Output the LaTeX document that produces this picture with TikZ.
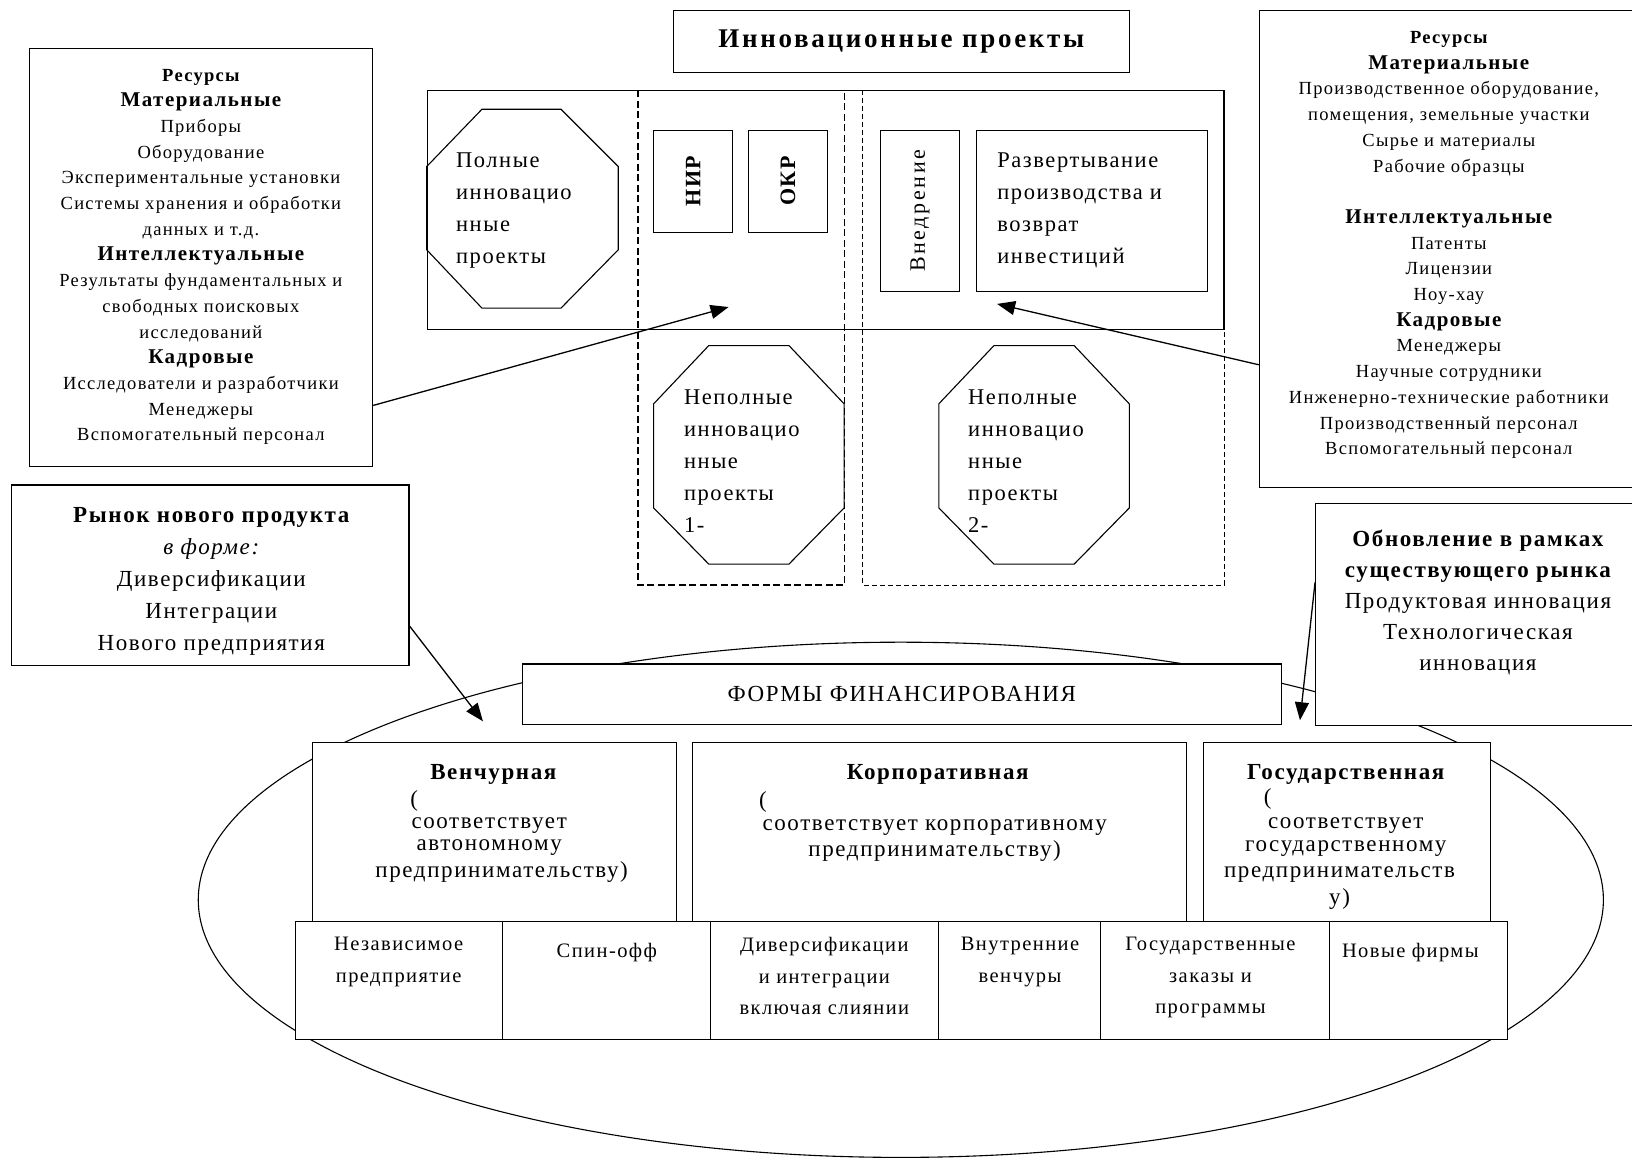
\documentclass[tikz,border=0pt]{standalone}
\usepackage{fontspec}
\setmainfont{Liberation Serif}[LetterSpace=7]
\usetikzlibrary{arrows.meta,fit,shapes.geometric,calc}
\newcommand\fs[2]{\fontsize{#1}{#2}\selectfont}
\begin{document}
\begin{tikzpicture}[x=1.0408pt,y=-1.0408pt,
  box/.style={draw,line width=1.1pt,fill=white,inner sep=0pt},
  frame/.style={draw,line width=1.1pt,inner sep=0pt},
  zoneA/.style={line width=1.6pt,dash pattern=on 7pt off 3.5pt},
  zoneB/.style={line width=0.9pt,dash pattern=on 5pt off 3pt},
  oct/.style={draw,line width=1.1pt},
  arr/.style={line width=1.3pt,-{Triangle[length=18pt,width=14pt]}},
  lbl/.style={inner sep=0pt,align=center},
  res/.style={lbl,anchor=north,font=\fs{18.5}{25.7}},
  big/.style={lbl,font=\fs{23}{31}},
  bigb/.style={lbl,anchor=base,font=\bfseries\fs{23}{31}},
  bign/.style={lbl,anchor=base,font=\fs{23}{31}},
  cell/.style={lbl,anchor=north,font=\fs{20.5}{31.5}},
  octt/.style={inner sep=0pt,align=left,anchor=north west,font=\fs{22.5}{32}}
]
\useasboundingbox (0,0) rectangle (1568,1114);
\clip (0,0) rectangle (1568,1114);

% ellipse of financing forms
\node[draw,ellipse,line width=1.1pt,minimum width=1350*1.0408pt,minimum height=495*1.0408pt,inner sep=0pt] (ell) at (865.5,864.5) {};

% title
\node[box,fit={(647,10)(1085,70)}] (title) {};
\node[lbl,font=\bfseries\fs{27}{30}\addfontfeature{LetterSpace=10}] (titlet) at (title) {Инновационные проекты};

% left resources
\node[box,fit={(28,47)(358,448)}] (lres) {};
\node[res] (lrest) at (193,66) {{\bfseries Ресурсы}\\
{\bfseries\fs{21}{25.7}Материальные}\\
Приборы\\
Оборудование\\
Экспериментальные установки\\
Системы хранения и обработки\\
данных и т.д.\\
{\bfseries\fs{21}{25.7}Интеллектуальные}\\
Результаты фундаментальных и\\
свободных поисковых\\
исследований\\
{\bfseries\fs{21}{25.7}Кадровые}\\
Исследователи и разработчики\\
Менеджеры\\
Вспомогательный персонал};

% right resources
\node[box,fit={(1210,10)(1600,468)}] (rres) {};
\node[res] (rrest) at (1392,30) {{\bfseries Ресурсы}\\
{\bfseries\fs{21}{25.7}Материальные}\\
Производственное оборудование,\\
помещения, земельные участки\\
Сырье и материалы\\
Рабочие образцы\\[25.7pt]
{\bfseries\fs{21}{25.7}Интеллектуальные}\\
Патенты\\
Лицензии\\
Ноу-хау\\
{\bfseries\fs{21}{25.7}Кадровые}\\
Менеджеры\\
Научные сотрудники\\
Инженерно-технические работники\\
Производственный персонал\\
Вспомогательный персонал};

% main projects area
\node[inner sep=0pt,fit={(613,87)(811,562)}] (zone1) {};
\node[inner sep=0pt,fit={(829,87)(1176,562)}] (zone2) {};
\draw[zoneA] (zone1.north west) -- (zone1.south west) -- (zone1.south east) -- (zone1.north east);
\draw[zoneB] (zone2.north west) -- (zone2.south west) -- (zone2.south east) -- (zone2.north east);
\node[frame,fit={(411,87)(1176,317)}] (main) {};

% octagons
\draw[oct] (463,105) -- (539,105) -- (594,160) -- (594,240) -- (539,296) -- (463,296) -- (410,240) -- (410,160) -- cycle;
\draw[oct] (681,332) -- (758,332) -- (811,388) -- (811,488) -- (758,542) -- (681,542) -- (628,488) -- (628,388) -- cycle;
\draw[oct] (955,332) -- (1032,332) -- (1085,388) -- (1085,488) -- (1032,542) -- (955,542) -- (902,488) -- (902,388) -- cycle;
\node[octt] (fullt) at (438,146.5) {Полные\\инновацио\\нные\\проекты};
\node[octt] (inc1t) at (657,374) {Неполные\\инновацио\\нные\\проекты\\1-};
\node[octt] (inc2t) at (930,374) {Неполные\\инновацио\\нные\\проекты\\2-};

% stage boxes
\node[box,fit={(628,125)(704,223)}] (nir) {};
\node[box,fit={(719,125)(795,223)}] (okr) {};
\node[box,fit={(846,125)(922,280)}] (vnedr) {};
\node[box,fit={(938,125)(1160,280)}] (razv) {};
\node[lbl,rotate=90,font=\bfseries\fs{22}{26}] (nirt) at (nir) {НИР};
\node[lbl,rotate=90,font=\bfseries\fs{22}{26}] (okrt) at (okr) {ОКР};
\node[lbl,rotate=90,font=\fs{22}{26}\addfontfeature{LetterSpace=12}] (vnedrt) at (vnedr) {Внедрение};
\node[octt] (razvt) at (958,146.5) {Развертывание\\производства и\\возврат\\инвестиций};

% market boxes
\node[box,fit={(11,466)(393,639)}] (rynok) {};
\node[big,anchor=north,font=\fs{23}{32}] (rynokt) at (203,487) {{\bfseries Рынок нового продукта}\\
{\itshape в форме:}\\
Диверсификации\\
Интеграции\\
Нового предприятия};
\node[box,fit={(1264,484)(1600,697)}] (obn) {};
\node[big,anchor=north] (obnt) at (1420,509) {{\bfseries Обновление в рамках}\\
{\bfseries существующего рынка}\\
Продуктовая инновация\\
Технологическая\\
инновация};

% financing forms
\node[box,fit={(502,638)(1231,696)}] (formy) {};
\node[big] (formyt) at (formy) {ФОРМЫ ФИНАНСИРОВАНИЯ};

\node[box,fit={(300,713)(650,885)}] (vent) {};
\node[box,fit={(665,713)(1140,885)}] (corp) {};
\node[box,fit={(1156,713)(1432,885)}] (gos) {};

\node[bigb] (ventt) at (474,749) {Венчурная};
\node[bign] (ventp) at (398,775) {(};
\node[bign] (vent1) at (470,796) {соответствует};
\node[bign] (vent2) at (470,817) {автономному};
\node[bign] (vent3) at (482,843) {предпринимательству)};

\node[bigb] (corpt) at (901,749) {Корпоративная};
\node[bign] (corpp) at (733,776) {(};
\node[bign] (corp1) at (898,798) {соответствует корпоративному};
\node[bign] (corp2) at (898,823) {предпринимательству)};

\node[bigb] (gost) at (1293,749) {Государственная};
\node[bign] (gosp) at (1218,773) {(};
\node[bign] (gos1) at (1293,796) {соответствует};
\node[bign] (gos2) at (1293,818) {государственному};
\node[bign] (gos3) at (1287,843) {предпринимательств};
\node[bign] (gos4) at (1287,869) {у)};

% bottom row
\node[box,fit={(284,885)(483,999)}] (c1) {};
\node[box,fit={(483,885)(683,999)}] (c2) {};
\node[box,fit={(683,885)(902,999)}] (c3) {};
\node[box,fit={(902,885)(1057,999)}] (c4) {};
\node[box,fit={(1057,885)(1277,999)}] (c5) {};
\node[box,fit={(1277,885)(1448,999)}] (c6) {};
\node[cell] (c1t) at (383,900.5) {Независимое\\предприятие};
\node[cell] (c2t) at (583,906.5) {Спин-офф};
\node[cell] (c3t) at (792,900.5) {Диверсификации\\и интеграции\\включая слиянии};
\node[cell] (c4t) at (980,900.5) {Внутренние\\венчуры};
\node[cell] (c5t) at (1163,900.5) {Государственные\\заказы и\\программы};
\node[cell] (c6t) at (1355,906.5) {Новые фирмы};

% arrows
\coordinate (tip1) at (700,295);
\coordinate (tip2) at (958,292);
\coordinate (tip3) at (464,693);
\coordinate (tip4) at (1249,692);
\draw[arr] ($(lres.south east)+(0,-59)$) -- (tip1);
\draw[arr] ($(rres.north west)+(0,341)$) -- (tip2);
\draw[arr] ($(rynok.south east)+(0,-38)$) -- (tip3);
\draw[arr] ($(obn.north west)+(0,76)$) -- (tip4);
\end{tikzpicture}
\end{document}
